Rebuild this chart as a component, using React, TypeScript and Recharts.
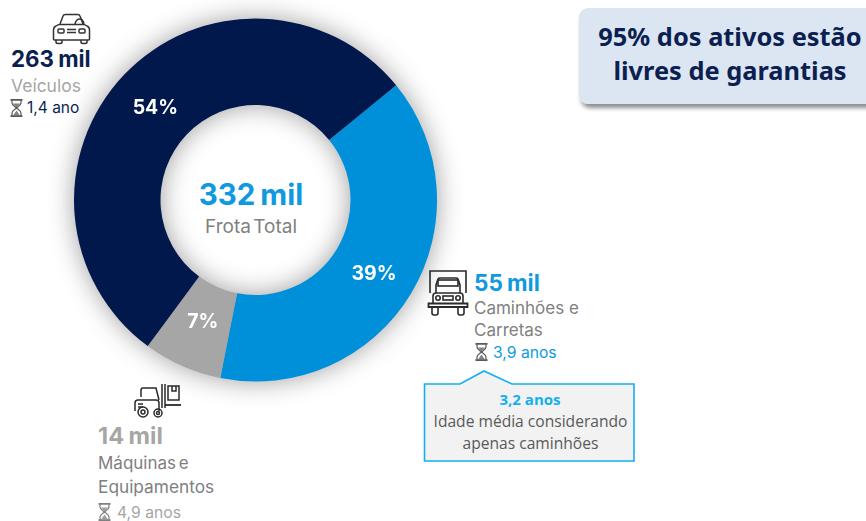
import { PieChart, Pie, Cell } from 'recharts'

const categories = ['Caminhões e Carretas', 'Máquinas e Equipamentos', 'Veículos']
const shares = [39, 7, 54]
const colors = ['#0090da', '#a6a6a6', '#00184c']

const chartData = categories.map((name, i) => ({ name, value: shares[i] }))

const NAVY = '#0b1f51'
const BLUE = '#0f9ae0'
const GREY = '#a6a6a6'
const MID = '#808080'
const UI = 'Inter, sans-serif'
const HEAD = '"Noto Sans", sans-serif'

// the 7% label sits closer to the hole than the other two
const labelRadius: Record<number, number> = { 39: 0.5, 7: 0.41, 54: 0.5 }

const renderPct = ({ cx, cy, midAngle, innerRadius, outerRadius, value }: any) => {
  const r = innerRadius + (outerRadius - innerRadius) * labelRadius[value]
  const a = (-midAngle * Math.PI) / 180
  return (
    <text
      x={cx + r * Math.cos(a)}
      y={cy + r * Math.sin(a) + 2}
      fill="#fff"
      fontFamily={UI}
      fontWeight={700}
      fontSize={19.5}
      textAnchor="middle"
      dominantBaseline="central"
    >
      {value}%
    </text>
  )
}

function Hourglass({ x, y, color = '#595959' }: { x: number; y: number; color?: string }) {
  return (
    <g transform={`translate(${x},${y})`} fill="none" stroke={color} strokeWidth={1.2}>
      <path d="M0.500 0.800h12M0.500 17.200h12" strokeWidth={1.8} />
      <path d="M2 1v3c0 2 3 3.500 4.500 5c1.500-1.500 4.500-3 4.500-5v-3M2 17v-3c0-2 3-3.500 4.500-5c1.500 1.500 4.500 3 4.500 5v3" />
      <path d="M3 4.500h7l-3.500 4zM3 16.500l3.500-5l3.500 5z" fill={color} stroke="none" opacity={0.75} />
    </g>
  )
}

function Car() {
  return (
    <g transform="translate(53,14)" fill="none" stroke="#333" strokeWidth={1.5}>
      <path d="M7 10l3-8q.500-1.500 2.500-1.500h12q2 0 2.500 1.500l3 8" />
      <path d="M3 12q-2.500 1-2.500 4v9q0 1 1 1h34q1 0 1-1v-9q0-3-2.500-4q-2-1.500-4-1.500h-23q-2 0-4 1.500z" />
      <path d="M3 26v2q0 1.500 2 1.500h2q2 0 2-1.500v-2M28 26v2q0 1.500 2 1.500h2q2 0 2-1.500v-2" />
      <rect x="5" y="15" width="6" height="4" rx="1" />
      <rect x="26" y="15" width="6" height="4" rx="1" />
      <path d="M14 15.500h9M14 18.500h9" />
      <path d="M22 10q1-5 5-5q3 0 4 5" />
    </g>
  )
}

function Truck() {
  return (
    <g transform="translate(428,270)" fill="none" stroke="#2a2a2a" strokeWidth={1.6}>
      <path d="M2 23v-22h36v22" />
      <path d="M8 23v-8l2-6q.500-1 2-1h16q1.500 0 2 1l2 6v8" />
      <rect x="10" y="10" width="20" height="6" />
      <path d="M0.500 37h39v-3.500h-39z" strokeWidth={1.8} />
      <path d="M5 33v-7q0-3 3-3h24q3 0 3 3v7" />
      <circle cx="10" cy="28" r="2.200" />
      <circle cx="30" cy="28" r="2.200" />
      <rect x="15" y="26" width="10" height="4" />
      <path d="M4 38v5q0 2 2 2h2q2 0 2-2v-5M30 38v5q0 2 2 2h2q2 0 2-2v-5" />
    </g>
  )
}

function Forklift() {
  return (
    <g transform="translate(134,384)" fill="none" stroke="#2a2a2a" strokeWidth={1.5}>
      <path d="M7 13v-7q0-2 2-2h13l3 12" />
      <path d="M1 27v-8q0-3 3-3h18q3 0 3 3v8" />
      <path d="M28 0v24M31 0v24" />
      <path d="M31 21h16" strokeWidth={1.8} />
      <rect x="34" y="2" width="11" height="14" />
      <path d="M38 2v5h4v-5" />
      <circle cx="9" cy="28" r="5" />
      <circle cx="9" cy="28" r="2" />
      <circle cx="24" cy="29" r="4" />
      <circle cx="24" cy="29" r="1.500" />
      <path d="M4 20h5M4 23h5" />
    </g>
  )
}

export default function App() {
  return (
    <div style={{ position: 'relative', width: 866, height: 521, overflow: 'hidden', background: '#fff' }}>
      <style>{'body{margin:0}'}</style>
      <div style={{ position: 'absolute', left: 0, top: 0, filter: 'drop-shadow(0 0 13px rgba(0,0,0,0.38))' }}>
        <PieChart width={866} height={521} margin={{ top: 0, right: 0, bottom: 0, left: 0 }}>
          <Pie
            data={chartData}
            dataKey="value"
            cx={255.5}
            cy={200}
            innerRadius={95}
            outerRadius={181.5}
            startAngle={39.2}
            endAngle={-320.8}
            stroke="none"
            label={renderPct}
            labelLine={false}
            isAnimationActive={false}
          >
            {chartData.map((d, i) => (
              <Cell key={d.name} fill={colors[i]} />
            ))}
          </Pie>
        </PieChart>
      </div>

      <svg width={866} height={521} style={{ position: 'absolute', left: 0, top: 0 }} fontFamily={UI}>
        <defs>
          <filter id="boxShadow" x="-10%" y="-10%" width="120%" height="130%">
            <feDropShadow dx="2" dy="4" stdDeviation="2" floodColor="#000" floodOpacity="0.45" />
          </filter>
        </defs>

        {/* centre */}
        <text x={251} y={205} textAnchor="middle" fontSize={29.5} fontWeight={700} wordSpacing={-2} fill={BLUE}>332 mil</text>
        <text x={251} y={233} textAnchor="middle" fontSize={19} wordSpacing={-3} fill={MID}>Frota Total</text>

        {/* Veiculos */}
        <Car />
        <text x={11} y={67} fontSize={22.3} fontWeight={700} wordSpacing={-1} fill={NAVY}>263 mil</text>
        <text x={11} y={92} fontSize={17.5} fill={GREY}>Veículos</text>
        <Hourglass x={10} y={99} />
        <text x={27} y={113} fontSize={15.5} fill={NAVY}>1,4 ano</text>

        {/* Caminhoes */}
        <Truck />
        <text x={474} y={291} fontSize={22.5} fontWeight={700} wordSpacing={-1} fill={BLUE}>55 mil</text>
        <text x={474} y={314} fontSize={17} fill={MID}>Caminhões e</text>
        <text x={474} y={336} fontSize={17} fill={MID}>Carretas</text>
        <Hourglass x={475} y={343} />
        <text x={493} y={358} fontSize={15.7} fill={BLUE}>3,9 anos</text>

        {/* callout */}
        <path
          d="M424.500 384H460L484 371L512 384H634V461H424.500Z"
          fill="#f2f2f2"
          stroke="#12b0f0"
          strokeWidth={1.6}
        />
        <text x={530} y={405} textAnchor="middle" fontFamily="Open Sans" fontSize={15} fontWeight={700} fill="#12b0f0">3,2 anos</text>
        <text x={530.5} y={427} textAnchor="middle" fontFamily="Open Sans" fontSize={15.6} fill="#595959">Idade média considerando</text>
        <text x={530.5} y={449} textAnchor="middle" fontFamily="Open Sans" fontSize={15.6} fill="#595959">apenas caminhões</text>

        {/* Maquinas */}
        <Forklift />
        <text x={98} y={444} fontSize={23.5} fontWeight={700} wordSpacing={-1} fill={GREY}>14 mil</text>
        <text x={98} y={469} fontSize={17} wordSpacing={-2} fill={MID}>Máquinas e</text>
        <text x={98} y={493} fontSize={17.3} fill={MID}>Equipamentos</text>
        <Hourglass x={98} y={503} color={MID} />
        <text x={117} y={518} fontSize={15.7} fill={GREY}>4,9 anos</text>

        {/* garantias */}
        <rect x={579} y={8} width={300} height={96} rx={9} fill="#dce6f2" filter="url(#boxShadow)" />
        <text x={730} y={46} textAnchor="middle" fontFamily={HEAD} fontSize={25.4} fontWeight={700} fill={NAVY}>95% dos ativos estão</text>
        <text x={730} y={80} textAnchor="middle" fontFamily={HEAD} fontSize={25.4} fontWeight={700} fill={NAVY}>livres de garantias</text>
      </svg>
    </div>
  )
}
